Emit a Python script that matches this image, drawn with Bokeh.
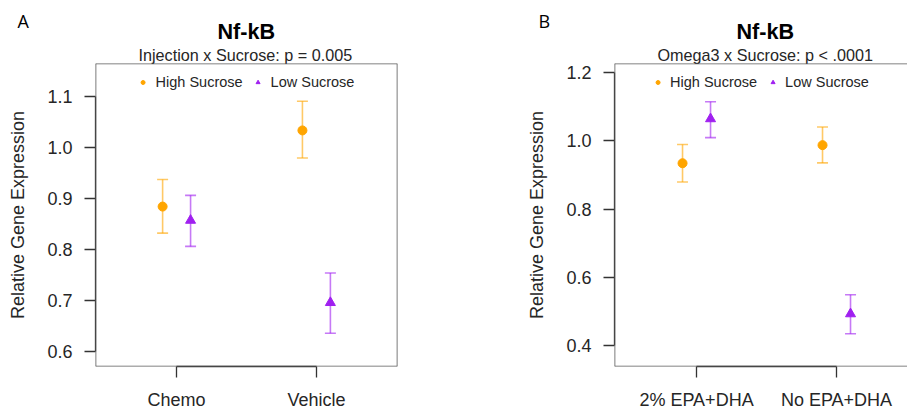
from bokeh.plotting import figure
from bokeh.layouts import row
from bokeh.models import (ColumnDataSource, Whisker, TeeHead, Legend, LegendItem,
                          FixedTicker, PrintfTickFormatter, Span, Range1d, Title)
from bokeh.embed import file_html
from bokeh.resources import INLINE

# ---------------- data ----------------
groups_a = ["Chemo", "Vehicle"]
a_high_mean = [0.884, 1.033]
a_high_lo = [0.832, 0.979]
a_high_hi = [0.937, 1.090]
a_low_mean = [0.857, 0.696]
a_low_lo = [0.806, 0.636]
a_low_hi = [0.906, 0.754]
a_yticks = [0.6, 0.7, 0.8, 0.9, 1.0, 1.1]

groups_b = ["2% EPA+DHA", "No EPA+DHA"]
b_high_mean = [0.934, 0.987]
b_high_lo = [0.879, 0.935]
b_high_hi = [0.989, 1.040]
b_low_mean = [1.064, 0.493]
b_low_lo = [1.009, 0.435]
b_low_hi = [1.114, 0.549]
b_yticks = [0.4, 0.6, 0.8, 1.0, 1.2]

ORANGE = "#FFA500"
PURPLE = "#A020F0"
FONT = "Liberation Sans"
TXT = "#262626"
BOX = "#5a5a5a"
DODGE = 0.1
PX_PER_UNIT = 140


def panel(letter, title, subtitle, groups, hm, hl, hh, lm, ll, lh, yticks,
          xr, yr, width, left, show_right, letter_offset, title_offset, sub_offset):
    frame_w = int(round((xr[1] - xr[0]) * PX_PER_UNIT))
    p = figure(width=width, height=412, output_backend="svg", toolbar_location=None,
               x_range=Range1d(*xr), y_range=Range1d(*yr),
               min_border_left=left, min_border_right=max(width - left - frame_w, 0),
               min_border_top=63, min_border_bottom=45)
    p.grid.visible = False
    p.background_fill_color = "white"
    p.border_fill_color = "white"
    p.outline_line_color = None
    edges = [(yr[0], "width"), (yr[1], "width"), (xr[0], "height")]
    if show_right:
        edges.append((xr[1], "height"))
    for loc, dim in edges:
        p.add_layout(Span(location=loc, dimension=dim, line_color=BOX, line_width=1.6,
                          level="overlay"))

    idx = list(range(1, len(groups) + 1))
    xh = [i - DODGE for i in idx]
    xl = [i + DODGE for i in idx]
    sh = ColumnDataSource(dict(x=xh, m=hm, lo=hl, hi=hh))
    sl = ColumnDataSource(dict(x=xl, m=lm, lo=ll, hi=lh))

    for src, col in [(sh, ORANGE), (sl, PURPLE)]:
        w = Whisker(source=src, base="x", lower="lo", upper="hi", dimension="height",
                    line_color=col, line_alpha=0.6, line_width=1.6,
                    upper_head=TeeHead(size=11, line_color=col, line_alpha=0.6, line_width=1.6),
                    lower_head=TeeHead(size=11, line_color=col, line_alpha=0.6, line_width=1.6))
        p.add_layout(w)

    rh = p.scatter("x", "m", source=sh, marker="circle", size=9, color=ORANGE)
    rl = p.scatter("x", "m", source=sl, marker="triangle", size=10, color=PURPLE)

    legend = Legend(items=[LegendItem(label="High Sucrose", renderers=[rh]),
                           LegendItem(label="Low Sucrose", renderers=[rl])],
                    orientation="horizontal", location="top_center",
                    border_line_color=None, background_fill_alpha=0,
                    label_text_font=FONT, label_text_font_size="14.5px", label_text_color=TXT,
                    glyph_width=10, glyph_height=14, label_standoff=8, spacing=10,
                    margin=9, padding=5, label_height=20)
    p.add_layout(legend)

    # axes
    p.xaxis.ticker = FixedTicker(ticks=idx)
    p.xaxis.major_label_overrides = {i: g for i, g in zip(idx, groups)}
    p.xaxis.bounds = (idx[0], idx[-1])
    p.yaxis.ticker = FixedTicker(ticks=yticks)
    p.yaxis.formatter = PrintfTickFormatter(format="%.1f")
    p.yaxis.bounds = (yticks[0], yticks[-1])
    for ax in (p.xaxis, p.yaxis):
        ax.axis_line_color = "#333333"
        ax.axis_line_width = 1.3
        ax.major_tick_line_color = "#333333"
        ax.major_tick_line_width = 1.3
        ax.major_tick_out = 11
        ax.major_tick_in = 0
        ax.minor_tick_line_color = None
        ax.major_label_text_font = FONT
        ax.major_label_text_font_size = "18px"
        ax.major_label_text_color = TXT
        ax.major_label_standoff = 12
    p.yaxis.axis_label = "Relative Gene Expression"
    p.yaxis.axis_label_text_font = FONT
    p.yaxis.axis_label_text_font_size = "18px"
    p.yaxis.axis_label_text_font_style = "normal"
    p.yaxis.axis_label_text_color = TXT
    p.yaxis.axis_label_standoff = 16

    # titles: first added sits closest to the frame
    p.add_layout(Title(text=subtitle, align="left", offset=sub_offset, standoff=0,
                       text_font=FONT, text_font_size="16.2px", text_font_style="normal",
                       text_color=TXT, vertical_align="bottom"), "above")
    p.add_layout(Title(text=title, align="left", offset=title_offset, standoff=0,
                       text_font=FONT, text_font_size="21.6px", text_font_style="bold",
                       text_color="black", vertical_align="bottom"), "above")
    p.add_layout(Title(text=letter, align="left", offset=letter_offset, standoff=-33,
                       text_font="Open Sans", text_font_size="18px", text_font_style="normal",
                       text_color="black", vertical_align="bottom"), "above")
    return p


pA = panel("A", "Nf-kB", "Injection x Sucrose: p = 0.005", groups_a,
           a_high_mean, a_high_lo, a_high_hi, a_low_mean, a_low_lo, a_low_hi, a_yticks,
           (0.42, 2.58), (0.571, 1.164), 460, 95, True, -78, 122, 43)
pB = panel("B", "Nf-kB", "Omega3 x Sucrose: p < .0001", groups_b,
           b_high_mean, b_high_lo, b_high_hi, b_low_mean, b_low_lo, b_low_hi, b_yticks,
           (0.414, 2.507), (0.339, 1.226), 447, 154, False, -76, 122, 43)

layout = row(pA, pB, spacing=0)
open("out.html", "w").write(file_html(layout, INLINE))
